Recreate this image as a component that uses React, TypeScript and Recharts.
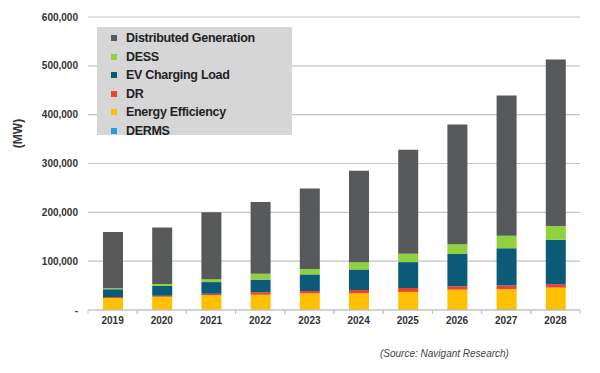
import { BarChart, Bar, XAxis, YAxis, CartesianGrid } from 'recharts'

const years = ['2019', '2020', '2021', '2022', '2023', '2024', '2025', '2026', '2027', '2028']
const derms = [500, 600, 700, 800, 900, 1000, 1100, 1200, 1300, 1400]
const energyEfficiency = [24000, 26500, 29500, 30500, 33000, 33000, 36000, 40500, 41000, 44500]
const dr = [2000, 2000, 3000, 5000, 5000, 7000, 8000, 7000, 8000, 7000]
const evCharging = [16000, 20000, 24000, 26000, 34000, 42000, 53000, 66000, 76000, 91000]
const dess = [2000, 4000, 6000, 12000, 11000, 15000, 17000, 20000, 26000, 28000]
const distributedGen = [115000, 116000, 137000, 147000, 165000, 187000, 213000, 245000, 287000, 341000]
const yTicks = [0, 100000, 200000, 300000, 400000, 500000, 600000]

const SERIES = [
  { key: 'DERMS', values: derms, color: '#1f9fd6' },
  { key: 'Energy Efficiency', values: energyEfficiency, color: '#ffc000' },
  { key: 'DR', values: dr, color: '#e8452c' },
  { key: 'EV Charging Load', values: evCharging, color: '#0b5b78' },
  { key: 'DESS', values: dess, color: '#8fd13f' },
  { key: 'Distributed Generation', values: distributedGen, color: '#58595b' },
]

const data = years.map((year, i) => {
  const row: Record<string, string | number> = { year }
  SERIES.forEach(s => { row[s.key] = s.values[i] })
  return row
})

const FONT = '"Liberation Sans", Arial, sans-serif'
const GRID = '#c4c4c4'

function LegendBox() {
  const items = [...SERIES].reverse()
  return (
    <div style={{ position: 'absolute', left: 97, top: 27, background: '#d6d6d6', width: 195, height: 108, padding: '2px 0 0 14px', boxSizing: 'border-box', fontFamily: FONT }}>
      {items.map(s => (
        <div key={s.key} style={{ display: 'flex', alignItems: 'center', height: 18.5, fontSize: 12.5, fontWeight: 'bold', color: '#222', letterSpacing: -0.3 }}>
          <span style={{ width: 6, height: 6, background: s.color, marginRight: 9, display: 'inline-block' }} />
          {s.key}
        </div>
      ))}
    </div>
  )
}

function YearTick(props: any) {
  const { x, y, payload } = props
  const off = payload.offset ?? 0
  return (
    <g>
      <line x1={x - off} x2={x - off} y1={y - 7} y2={y - 3} stroke={GRID} />
      <line x1={x + off} x2={x + off} y1={y - 7} y2={y - 3} stroke={GRID} />
      <text x={x} y={y} dy="0.71em" textAnchor="middle" fontSize={10} fontWeight="bold" fill="#333" fontFamily={FONT}>
        {payload.value}
      </text>
    </g>
  )
}

export default function App() {
  return (
    <div style={{ position: 'absolute', left: 0, top: 0, width: 600, height: 373, background: '#fff' }}>
      <BarChart width={600} height={373} data={data} margin={{ top: 17, right: 20, left: 0, bottom: 33 }}>
        <CartesianGrid vertical={false} stroke={GRID} strokeWidth={1.2} />
        <XAxis
          dataKey="year"
          interval={0}
          tick={<YearTick />}
          tickLine={false}
          tickSize={0}
          tickMargin={7}
          height={30}
          axisLine={{ stroke: GRID }}
        />
        <YAxis
          width={88}
          domain={[0, 600000]}
          ticks={yTicks}
          tickFormatter={v => (v === 0 ? '-' : Number(v).toLocaleString('en-US'))}
          tick={{ fontSize: 10, fontWeight: 'bold', fill: '#333', fontFamily: FONT }}
          axisLine={false}
          tickLine={false}
          tickMargin={4}
          label={{ value: '(MW)', angle: -90, position: 'insideLeft', offset: 18, dy: -30, style: { fontSize: 12, fontWeight: 'bold', fill: '#333', fontFamily: FONT, textAnchor: 'middle' } }}
        />
        <YAxis yAxisId="right" orientation="right" width={0} tick={false} tickLine={false} axisLine={{ stroke: GRID }} />
        {SERIES.map(s => (
          <Bar key={s.key} dataKey={s.key} stackId="a" fill={s.color} barSize={20} isAnimationActive={false} />
        ))}
      </BarChart>
      <LegendBox />
      <div style={{ position: 'absolute', left: 380, top: 348, fontFamily: FONT, fontSize: 10, fontStyle: 'italic', color: '#444' }}>
        (Source: Navigant Research)
      </div>
    </div>
  )
}
